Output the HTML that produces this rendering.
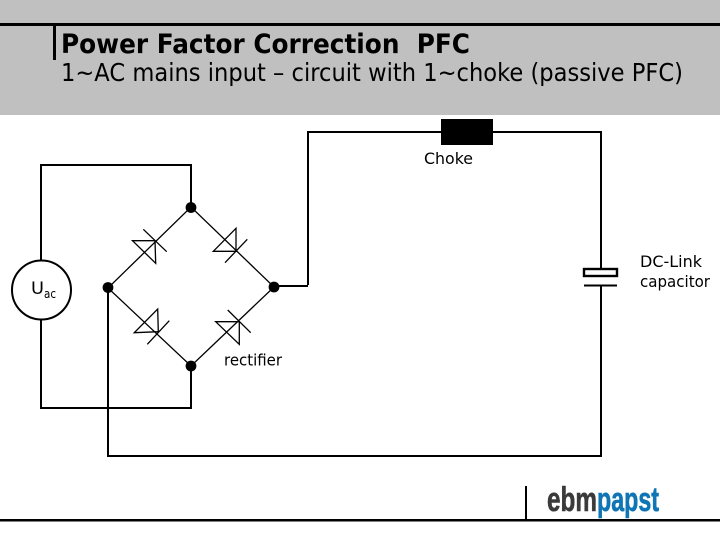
<!DOCTYPE html>
<html>
<head>
<meta charset="utf-8">
<style>
html,body{margin:0;padding:0;background:#fff;width:720px;height:540px;overflow:hidden}
svg{display:block}
text{font-family:"DejaVu Sans","Liberation Sans",sans-serif;fill:#000}
</style>
</head>
<body>
<svg width="720" height="540" viewBox="0 0 720 540" xmlns="http://www.w3.org/2000/svg">
<rect x="0" y="0" width="720" height="115" fill="#c0c0c0"/>
<rect x="0" y="23" width="720" height="3" fill="#000"/>
<rect x="53" y="25" width="3" height="35" fill="#000"/>
<text x="61" y="53" font-size="27" font-weight="bold" xml:space="preserve" textLength="409" lengthAdjust="spacingAndGlyphs">Power Factor Correction  PFC</text>
<text x="61" y="81" font-size="24.500" textLength="622" lengthAdjust="spacingAndGlyphs">1~AC mains input – circuit with 1~choke (passive PFC)</text>

<g fill="none" stroke="#000" stroke-width="2">
<path d="M308 285V132H601V268"/>
<path d="M274 286H308"/>
<path d="M41 261V165H191V207"/>
<path d="M41 320V408H191V366"/>
<path d="M108 288V456H601V285"/>
<circle cx="41.500" cy="290" r="29.500"/>
<path d="M584 285.500H617"/>
</g>
<rect x="584" y="269" width="33" height="7" fill="none" stroke="#000" stroke-width="2.400"/>
<rect x="441" y="119" width="52" height="26" fill="#000"/>

<g fill="none" stroke="#000" stroke-width="1.300">
<path d="M108 288L191 207L274 287L191 366Z"/>
<path d="M132.500 240.700H155L155.700 263.300Z"/>
<path d="M143.300 229.300L166.700 251.700"/>
<path d="M213.300 251.300H236V228.300Z"/>
<path d="M247.300 239.300L225 262.700"/>
<path d="M134.300 332.700L158.300 331.700L157.700 309Z"/>
<path d="M147.300 344.300L169.300 320.700"/>
<path d="M215.700 321.700H239.300V344.300Z"/>
<path d="M227.700 310L250.700 332.700"/>
</g>
<g fill="#000">
<circle cx="191" cy="207.500" r="5.400"/>
<circle cx="108" cy="287.500" r="5.400"/>
<circle cx="274" cy="287" r="5.400"/>
<circle cx="191" cy="366" r="5.400"/>
</g>

<text x="424" y="164" font-size="16" textLength="49" lengthAdjust="spacingAndGlyphs">Choke</text>
<text x="224" y="365.500" font-size="16" textLength="58" lengthAdjust="spacingAndGlyphs">rectifier</text>
<text x="640" y="267" font-size="16" textLength="62" lengthAdjust="spacingAndGlyphs">DC-Link</text>
<text x="640" y="287" font-size="16" textLength="70" lengthAdjust="spacingAndGlyphs">capacitor</text>
<text x="31" y="294" font-size="17" textLength="13" lengthAdjust="spacingAndGlyphs">U</text>
<text x="44" y="298" font-size="12" textLength="12" lengthAdjust="spacingAndGlyphs">ac</text>

<rect x="525" y="486" width="2" height="34" fill="#000"/>
<rect x="0" y="519" width="720" height="2.500" fill="#000"/>
<text x="547" y="511" font-size="34" font-weight="bold" textLength="50" lengthAdjust="spacingAndGlyphs" stroke="#3a3a3a" stroke-width="0.600" style="font-family:'Liberation Sans',sans-serif;fill:#3a3a3a">ebm</text>
<text x="597" y="511" font-size="34" font-weight="bold" textLength="62" lengthAdjust="spacingAndGlyphs" stroke="#0f75b5" stroke-width="0.600" style="font-family:'Liberation Sans',sans-serif;fill:#0f75b5">papst</text>
</svg>
</body>
</html>
